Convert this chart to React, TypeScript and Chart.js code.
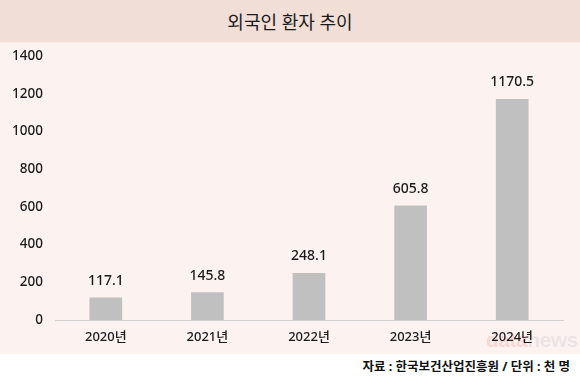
import React, { useEffect, useRef } from "react";
import { Chart, registerables } from "chart.js";

Chart.register(...registerables);

const categories = ["2020년", "2021년", "2022년", "2023년", "2024년"];
const patients = [117.1, 145.8, 248.1, 605.8, 1170.5];
const valueLabels = ["117.1", "145.8", "248.1", "605.8", "1170.5"];
const title = "외국인 환자 추이";
const source = "자료 : 한국보건산업진흥원 / 단위 : 천 명";

const FONT = "'Noto Sans', 'Noto Sans CJK KR', sans-serif";

const labelPlugin = {
  id: "valueLabels",
  afterDatasetsDraw(chart: any) {
    const ctx = chart.ctx;
    const meta = chart.getDatasetMeta(0);
    ctx.save();
    ctx.font = `500 14px ${FONT}`;
    ctx.fillStyle = "#1a1a1a";
    ctx.textAlign = "center";
    ctx.textBaseline = "middle";
    meta.data.forEach((bar: any, i: number) => {
      ctx.fillText(valueLabels[i], bar.x, bar.y - 17);
    });
    ctx.restore();
  },
};

export default function App() {
  const ref = useRef<HTMLCanvasElement>(null);
  useEffect(() => {
    if (!ref.current) return;
    const chart = new Chart(ref.current, {
      type: "bar",
      data: {
        labels: categories,
        datasets: [
          {
            data: patients,
            backgroundColor: "#c0c0c0",
            barThickness: 32,
          },
        ],
      },
      options: {
        animation: false,
        responsive: false,
        maintainAspectRatio: false,
        layout: { padding: { top: 5, right: 17, left: 0, bottom: 0 } },
        plugins: { legend: { display: false }, tooltip: { enabled: false } },
        scales: {
          x: {
            grid: { display: false, drawTicks: false },
            border: { display: true, color: "#d0d0d0", width: 1 },
            ticks: {
              color: "#1a1a1a",
              font: { family: FONT, size: 13, weight: 500 },
              padding: 9,
            },
            afterFit: (s: any) => {
              s.height = 34;
            },
          },
          y: {
            min: 0,
            max: 1400,
            grid: { display: false, drawTicks: false },
            border: { display: false },
            ticks: {
              stepSize: 200,
              color: "#1a1a1a",
              font: { family: FONT, size: 13.5, weight: 500 },
              padding: 12,
              callback: (v: any) => String(v),
            },
            afterFit: (s: any) => {
              s.width = 55;
            },
          },
        },
      },
      plugins: [labelPlugin],
    });
    return () => chart.destroy();
  }, []);

  return (
    <div
      style={{
        position: "fixed",
        left: 0,
        top: 0,
        width: 580,
        height: 381,
        background: "#ffffff",
        fontFamily: FONT,
        overflow: "hidden",
      }}
    >
      <div
        style={{
          position: "absolute",
          left: 0,
          top: 43,
          width: 580,
          height: 311,
          background: "#fcf2ef",
        }}
      >
        <div
          style={{
            position: "absolute",
            left: 486,
            top: 285,
            fontSize: 21,
            fontWeight: 700,
            fontFamily: "Arial, sans-serif",
            letterSpacing: -0.5,
          }}
        >
          <span style={{ color: "rgba(225,80,70,0.18)" }}>data</span>
          <span style={{ color: "rgba(110,130,160,0.13)" }}>news</span>
        </div>
      </div>
      <canvas
        ref={ref}
        width={580}
        height={318}
        style={{ display: "block", position: "absolute", left: 0, top: 36 }}
      />
      <div
        style={{
          position: "absolute",
          left: 0,
          top: 0,
          width: 580,
          height: 42,
          background: "#f1ded7",
          borderBottom: "1px solid #f6e8e3",
          display: "flex",
          alignItems: "center",
          justifyContent: "center",
          fontSize: 18,
          color: "#1a1a1a",
        }}
      >
        {title}
      </div>
      <div
        style={{
          position: "absolute",
          right: 10,
          top: 356,
          fontSize: 12.5,
          fontWeight: 700,
          color: "#111",
        }}
      >
        {source}
      </div>
    </div>
  );
}
